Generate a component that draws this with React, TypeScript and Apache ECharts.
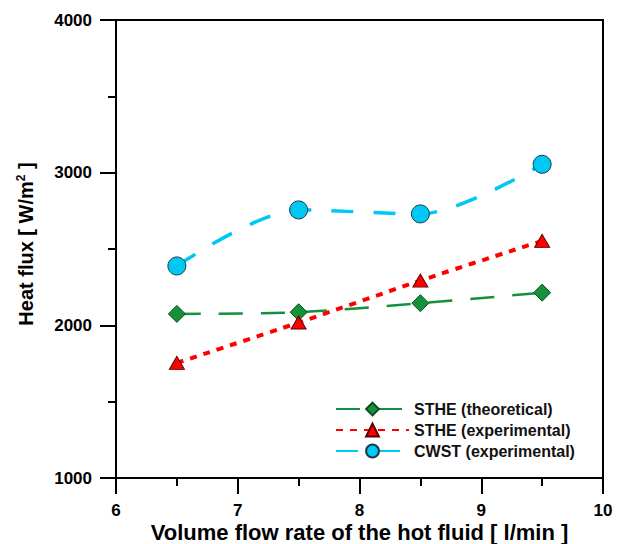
import React, { useEffect, useRef } from "react";
import * as echarts from "echarts";

const flowRates = [6.5, 7.5, 8.5, 9.5];
const stheTheoretical = [2075, 2086, 2145, 2214];
const stheExperimental = [1754, 2018, 2293, 2553];
const cwstExperimental = [2389, 2756, 2730, 3055];
const seriesNames = ["STHE (theoretical)", "STHE (experimental)", "CWST (experimental)"];

const pairs = (ys: number[]) => flowRates.map((x, i) => [x, ys[i]]);

export default function App() {
  const ref = useRef<HTMLDivElement>(null);
  useEffect(() => {
    document.body.style.margin = "0";
    const chart = echarts.init(ref.current!, null, { renderer: "svg" });
    const font = "Liberation Sans, Arial, sans-serif";
    const axisCommon = {
      axisLine: { show: true, lineStyle: { color: "#000", width: 2 } },
      axisTick: { show: true, inside: false, length: 16, lineStyle: { color: "#000", width: 2 } },
      minorTick: { show: true, splitNumber: 2, length: 8, lineStyle: { color: "#000", width: 2 } },
      axisLabel: { margin: 24, fontFamily: font, fontWeight: "bold", fontSize: 17, lineHeight: 17, color: "#000", formatter: (v: number) => String(v) },
      splitLine: { show: false },
      nameMoveOverlap: false,
    };
    chart.setOption({
      animation: false,
      textStyle: { fontFamily: font },
      grid: {
        left: 116,
        right: 25,
        top: 20,
        bottom: 66,
        outerBoundsMode: "none",
        containLabel: false,
        show: true,
        borderColor: "#000",
        borderWidth: 2,
        backgroundColor: "transparent",
      },
      legend: {
        orient: "vertical",
        left: 330,
        top: 396,
        itemWidth: 73,
        itemHeight: 16,
        itemGap: 5,
        textStyle: { fontFamily: font, fontWeight: "bold", fontSize: 16, color: "#111" },
        data: seriesNames,
      },
      xAxis: {
        type: "value",
        min: 6,
        max: 10,
        interval: 1,
        name: "Volume flow rate of the hot fluid [ l/min ]",
        nameLocation: "middle",
        nameGap: 43,
        nameTextStyle: { fontFamily: font, fontWeight: "bold", fontSize: 22, lineHeight: 22, color: "#000" },
        ...axisCommon,
      },
      yAxis: {
        type: "value",
        min: 1000,
        max: 4000,
        interval: 1000,
        name: "{a|Heat flux [ W/m}{s|2}{a| ]}",
        nameLocation: "middle",
        nameGap: 80,
        nameRotate: 90,
        nameTextStyle: {
          fontFamily: font,
          fontWeight: "bold",
          fontSize: 20,
          color: "#000",
          padding: [0, 0, 0, 10],
          rich: {
            a: { fontFamily: font, fontWeight: "bold", fontSize: 20, color: "#000" },
            s: { fontFamily: font, fontWeight: "bold", fontSize: 12, color: "#000", verticalAlign: "top", padding: [0, 0, 9, 0] },
          },
        },
        ...axisCommon,
      },
      series: [
        {
          name: seriesNames[0],
          type: "line",
          data: pairs(stheTheoretical),
          smooth: 0.3,
          symbol: "diamond",
          symbolSize: [17, 17],
          itemStyle: { color: "#14913a", borderColor: "#0b4d1e", borderWidth: 1 },
          lineStyle: { color: "#14913a", width: 2.5, type: [24, 18] },
          z: 3,
        },
        {
          name: seriesNames[1],
          type: "line",
          data: pairs(stheExperimental),
          smooth: 0.3,
          symbol: "triangle",
          symbolSize: [15, 13],
          itemStyle: { color: "#ff0000", borderColor: "#5a0000", borderWidth: 1 },
          lineStyle: { color: "#ff0000", width: 4, type: [7, 7] },
          z: 4,
        },
        {
          name: seriesNames[2],
          type: "line",
          data: pairs(cwstExperimental),
          smooth: 0.3,
          symbol: "circle",
          symbolSize: 18,
          itemStyle: { color: "#00c8f5", borderColor: "#1a3a4a", borderWidth: 1 },
          lineStyle: { color: "#00c8f5", width: 3.5, type: [22, 20] },
          z: 5,
        },
      ],
    });
    return () => chart.dispose();
  }, []);
  return <div ref={ref} style={{ width: 628, height: 544 }} />;
}
